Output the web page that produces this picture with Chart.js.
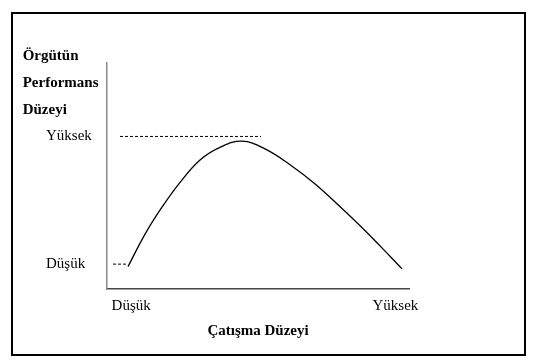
<!DOCTYPE html>
<html>
<head>
<meta charset="utf-8">
<script src="https://cdn.jsdelivr.net/npm/chart.js@4/dist/chart.umd.min.js"></script>
<style>
  html, body { margin: 0; padding: 0; background: #fff; }
  #frame { position: absolute; left: 11px; top: 12px; width: 515px; height: 344px; box-sizing: border-box; border: 2px solid #000; }
  #c { position: absolute; left: 0; top: 0; }
</style>
</head>
<body>
<div id="frame"></div>
<canvas id="c" width="559" height="364"></canvas>
<script>
// Değerler (0-100 göreli ölçek)
var perfX = [6.95, 12.6, 18.2, 24.2, 30.8, 37.4, 44.7, 52.3, 60.6, 68.9, 77.2, 85.4, 93.7, 97.7];
var perfY = [9.9, 24.3, 36.2, 47.2, 57.1, 62.7, 65.4, 62.0, 55.0, 46.5, 36.4, 25.9, 14.5, 8.9];

var highLineX = [4.3, 51];
var highLineY = 67.5;
var lowLineX = [2.0, 6.6];
var lowLineY = 11;

var xTickValues = [8, 95.5];
var xTickLabels = ['Düşük', 'Yüksek'];
var yTickValues = [lowLineY, highLineY];
var yTickLabels = ['Düşük', 'Yüksek'];

var yTitleLines = ['Örgütün', 'Performans', 'Düzeyi'];
var xTitle = 'Çatışma Düzeyi';

var SERIF = "'Liberation Serif', 'Times New Roman', serif";

function pts(xs, ys) {
  return xs.map(function (x, i) { return { x: x, y: Array.isArray(ys) ? ys[i] : ys }; });
}

// sol üstteki kalın eksen başlığı (yatay, üç satır)
var yTitlePlugin = {
  id: 'yTitle',
  afterDraw: function (chart) {
    var ctx = chart.ctx, a = chart.chartArea;
    ctx.save();
    ctx.font = 'bold 15px ' + SERIF;
    ctx.fillStyle = '#000';
    ctx.textAlign = 'left';
    ctx.textBaseline = 'middle';
    yTitleLines.forEach(function (t, i) {
      ctx.fillText(t, a.left - 84.3, a.top - 7 + i * 27.3);
    });
    ctx.restore();
  }
};

new Chart(document.getElementById('c'), {
  type: 'line',
  data: {
    datasets: [
      {
        data: pts(perfX, perfY),
        borderColor: '#000',
        borderWidth: 1.3,
        pointRadius: 0,
        tension: 0.4,
        fill: false
      },
      {
        data: pts(highLineX, highLineY),
        borderColor: '#000',
        borderWidth: 1,
        borderDash: [3, 2],
        pointRadius: 0
      },
      {
        data: pts(lowLineX, lowLineY),
        borderColor: '#000',
        borderWidth: 1,
        borderDash: [3, 2],
        pointRadius: 0
      }
    ]
  },
  options: {
    responsive: false,
    animation: false,
    layout: { padding: { left: 46, top: 63, right: 150, bottom: 15 } },
    plugins: { legend: { display: false }, tooltip: { enabled: false }, title: { display: false } },
    scales: {
      x: {
        type: 'linear',
        min: 0, max: 100,
        grid: { display: false },
        border: { display: true, color: '#444', width: 1.5 },
        afterBuildTicks: function (s) { s.ticks = xTickValues.map(function (v) { return { value: v }; }); },
        afterFit: function (s) { s.height = 60; },
        ticks: {
          autoSkip: false,
          padding: 0,
          color: '#000',
          font: { family: SERIF, size: 15 },
          callback: function (v, i) { return xTickLabels[i]; }
        },
        title: {
          display: true,
          text: xTitle,
          color: '#000',
          font: { family: SERIF, size: 15, weight: 'bold' },
          padding: { top: 0, bottom: 9 }
        }
      },
      y: {
        type: 'linear',
        min: 0, max: 100,
        grid: { display: false },
        border: { display: true, color: '#8a8a8a', width: 1.5 },
        afterBuildTicks: function (s) { s.ticks = yTickValues.map(function (v) { return { value: v }; }); },
        afterFit: function (s) { s.width = 61; },
        ticks: {
          autoSkip: false,
          crossAlign: 'far',
          padding: 0,
          color: '#000',
          font: { family: SERIF, size: 15 },
          callback: function (v, i) { return yTickLabels[i]; }
        }
      }
    }
  },
  plugins: [yTitlePlugin]
});
</script>
</body>
</html>
